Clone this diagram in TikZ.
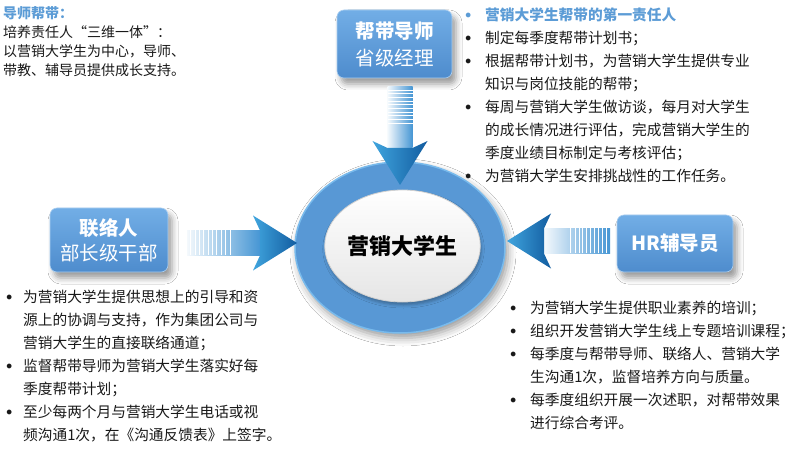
\documentclass[tikz,border=0pt]{standalone}
\usepackage{fontspec}
\setmainfont{Noto Sans CJK SC}
\usetikzlibrary{shapes.geometric,shadows.blur}
\definecolor{boxtop}{RGB}{114,174,230}
\definecolor{boxbot}{RGB}{78,140,205}
\definecolor{ringblue}{RGB}{88,152,213}
\definecolor{ringlight}{RGB}{120,186,236}
\definecolor{headdark}{RGB}{18,92,160}
\definecolor{headlight}{RGB}{64,165,222}
\definecolor{shaftblue}{RGB}{70,150,212}
\definecolor{titleblue}{RGB}{92,156,214}
\definecolor{bodytext}{RGB}{25,25,25}
\newcommand{\bulat}[2]{\makebox[#2][l]{\hspace*{#1}\makebox[0pt]{\raisebox{3.4pt}{\scalebox{0.36}{●}}}}}
\tikzset{
  rolebox/.style={rounded corners=7pt, top color=boxtop, bottom color=boxbot,
    draw=boxtop!60!white, line width=0.6pt, text=white, align=center, inner sep=0pt,
    blur shadow={shadow xshift=4pt, shadow yshift=-6pt, shadow blur radius=6pt}},
  textblock/.style={anchor=north west, inner sep=0pt, align=left, text=bodytext,
    font=\fontsize{14.7}{23}\selectfont},
  fatarrow/.pic={
    \shade[left color=shaftblue!6, right color=shaftblue] (-#1,-12.5) rectangle (-37,12.5);
    \foreach \f in {0.05,0.11,0.17,0.23,0.29,0.35,0.41,0.47,0.53,0.6}
      \draw[white, line width=0.9pt] ({-#1+\f*(#1-37)},-12.5) -- ++(0,25);
    \shade[left color=headlight, right color=headdark]
      (-37,12.5) -- (-44,27.5) -- (0,0) -- (-44,-27.5) -- (-37,-12.5) -- cycle;
  }
}
\begin{document}
\begin{tikzpicture}[x=1pt,y=-1pt]
\useasboundingbox (0,0) rectangle (798,449);
\fill[white] (0,0) rectangle (798,449);

% central ring
\node[ellipse, minimum width=210pt, minimum height=171pt, inner sep=0pt,
  fill=ringblue, draw=ringlight, line width=1.5pt,
  blur shadow={shadow xshift=3pt, shadow yshift=-5pt, shadow blur radius=8pt}] (ring) at (400,247.5) {};
\node[ellipse, minimum width=139pt, minimum height=112pt, inner sep=0pt,
  top color=white, bottom color=black!10, draw=black!18, line width=0.8pt,
  blur shadow={shadow xshift=1pt, shadow yshift=-3pt, shadow blur radius=3pt, shadow opacity=30},
  font=\fontsize{22}{26}\selectfont\bfseries, text=black] (student) at (402.5,246) {营销大学生};

% role boxes
\node[rolebox, minimum width=115pt, minimum height=68pt,
  font=\fontsize{19.5}{27}\selectfont] (mentor) at (394.5,44) {\textbf{帮带导师}\\省级经理};
\node[rolebox, minimum width=118pt, minimum height=64pt,
  font=\fontsize{19.5}{25}\selectfont] (liaison) at (109,240) {\textbf{联络人}\\部长级干部};
\node[rolebox, minimum width=116pt, minimum height=57pt,
  font=\fontsize{19.5}{25}\selectfont\bfseries] (hr) at (675,243.5) {HR辅导员};

% arrows
\coordinate (tiptop) at (400,185);
\coordinate (tipleft) at (297,243);
\coordinate (tipright) at (507,241);
\pic[rotate=-90] at (tiptop) {fatarrow=98};
\pic at (tipleft) {fatarrow=110};
\pic[rotate=180] at (tipright) {fatarrow=103};

% texts
\node[textblock, font=\fontsize{14}{19}\selectfont] (intro) at (3,5)
  {\strut{\color{titleblue}\bfseries 导师帮带：}\\
   培养责任人“三维一体”：\\
   以营销大学生为中心，导师、\\
   带教、辅导员提供成长支持。};

\node[textblock] (mentornotes) at (455,4.6)
  {\strut{\color{titleblue}\bulat{13pt}{30pt}\bfseries 营销大学生帮带的第一责任人}\\
   \bulat{13pt}{30pt}制定每季度帮带计划书；\\
   \bulat{13pt}{30pt}根据帮带计划书，为营销大学生提供专业\\
   \hspace*{30pt}知识与岗位技能的帮带；\\
   \bulat{13pt}{30pt}每周与营销大学生做访谈，每月对大学生\\
   \hspace*{30pt}的成长情况进行评估，完成营销大学生的\\
   \hspace*{30pt}季度业绩目标制定与考核评估；\\
   \bulat{13pt}{30pt}为营销大学生安排挑战性的工作任务。};

\node[textblock] (liaisonnotes) at (0,286.6)
  {\strut\bulat{9pt}{23pt}为营销大学生提供思想上的引导和资\\
   \hspace*{23pt}源上的协调与支持，作为集团公司与\\
   \hspace*{23pt}营销大学生的直接联络通道；\\
   \bulat{9pt}{23pt}监督帮带导师为营销大学生落实好每\\
   \hspace*{23pt}季度帮带计划；\\
   \bulat{9pt}{23pt}至少每两个月与营销大学生电话或视\\
   \hspace*{23pt}频沟通1次，在《沟通反馈表》上签字。};

\node[textblock] (hrnotes) at (500,297.6)
  {\strut\bulat{13pt}{30pt}为营销大学生提供职业素养的培训；\\
   \bulat{13pt}{30pt}组织开发营销大学生线上专题培训课程；\\
   \bulat{13pt}{30pt}每季度与帮带导师、联络人、营销大学\\
   \hspace*{30pt}生沟通1次，监督培养方向与质量。\\
   \bulat{13pt}{30pt}每季度组织开展一次述职，对帮带效果\\
   \hspace*{30pt}进行综合考评。};
\end{tikzpicture}
\end{document}
